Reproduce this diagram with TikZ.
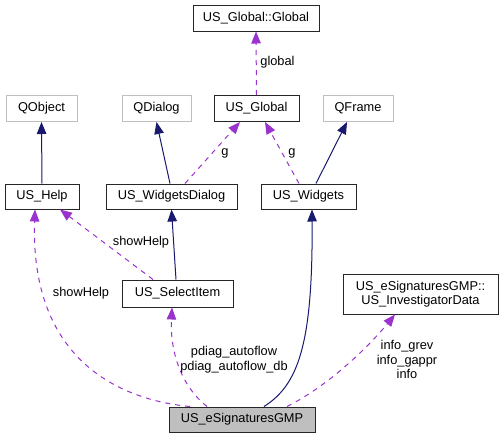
\documentclass[tikz,border=0pt]{standalone}
\usepackage{fontspec}
\setmainfont{Liberation Sans}
\usetikzlibrary{arrows.meta}
\definecolor{navyc}{HTML}{191970}
\definecolor{orchidc}{HTML}{9A32CD}
\definecolor{boxgray}{HTML}{BFBFBF}
\begin{document}
\begin{tikzpicture}[x=1pt,y=-1pt,
  font=\fontsize{12.8}{14.5}\selectfont,
  cls/.style={draw=black!85, fill=white, line width=1pt, inner sep=0pt, align=center, minimum height=26pt},
  ext/.style={cls, draw=boxgray},
  inh/.style={draw=navyc, line width=1pt, -{Triangle[length=12pt,width=9.5pt]}},
  use/.style={draw=orchidc, line width=1pt, dash pattern=on 5pt off 5pt, -{Triangle[length=12pt,width=9.5pt]}},
  lbl/.style={inner sep=0pt, align=center}]
\useasboundingbox (0,0) rectangle (503,439);
% nodes
\node[cls, minimum width=126pt] (gg) at (256,18) {US\_Global::Global};
\node[cls, minimum width=85pt] (glob) at (256.5,108.5) {US\_Global};
\node[ext, minimum width=71pt] (qobj) at (41.5,108.5) {QObject};
\node[ext, minimum width=69pt] (qdlg) at (156.5,108.5) {QDialog};
\node[ext, minimum width=70pt] (qfrm) at (358,108.5) {QFrame};
\node[cls, minimum width=74pt, minimum height=25pt] (help) at (42,196.5) {US\_Help};
\node[cls, minimum width=131pt, minimum height=25pt] (wdlg) at (171.5,196.5) {US\_WidgetsDialog};
\node[cls, minimum width=95pt, minimum height=25pt] (widg) at (308.5,196.5) {US\_Widgets};
\node[cls, minimum width=111pt, minimum height=27pt] (sel) at (177.5,293.5) {US\_SelectItem};
\node[cls, minimum width=155pt, minimum height=40pt] (inv) at (420.5,294) {US\_eSignaturesGMP::\\US\_InvestigatorData};
\node[cls, fill=boxgray, minimum width=146pt, minimum height=25pt] (esig) at (242,419.5) {US\_eSignaturesGMP};
% edges
\draw[use] (glob.north) -- (gg.south);
\node[lbl] at (277.5,62) {global};
\draw[inh] (help.north) -- (qobj.south);
\draw[inh] ([xshift=-1.5pt]wdlg.north) -- (qdlg.south);
\draw[use] ([xshift=13.5pt]wdlg.north) -- ([xshift=-16.5pt]glob.south);
\node[lbl] at (225,153) {g};
\draw[use] ([xshift=-9.5pt]widg.north) -- ([xshift=8.5pt]glob.south);
\node[lbl] at (292,153) {g};
\draw[inh] ([xshift=7.5pt]widg.north) -- ([xshift=-11pt]qfrm.south);
\draw[use] ([xshift=-24.5pt]sel.north) -- ([xshift=18pt]help.south);
\node[lbl] at (141,242) {showHelp};
\draw[inh] ([xshift=-1.5pt]sel.north) -- (wdlg.south);
\draw[inh] ([xshift=22pt]esig.north) .. controls (298,385) and (313,345) .. ([xshift=3.5pt]widg.south);
\draw[use] ([xshift=-52pt]esig.north) .. controls (120,400) and (30,360) .. ([xshift=-7pt]help.south);
\node[lbl] at (81,293) {showHelp};
\draw[use] ([xshift=-35pt]esig.north) .. controls (180,385) and (170,350) .. ([xshift=-5.5pt]sel.south);
\node[lbl] at (234,359.5) {pdiag\_autoflow\\pdiag\_autoflow\_db};
\draw[use] ([xshift=45pt]esig.north) .. controls (330,385) and (370,345) .. ([xshift=-25.5pt]inv.south);
\node[lbl] at (407,359.5) {info\_grev\\info\_gappr\\info};
\end{tikzpicture}
\end{document}
